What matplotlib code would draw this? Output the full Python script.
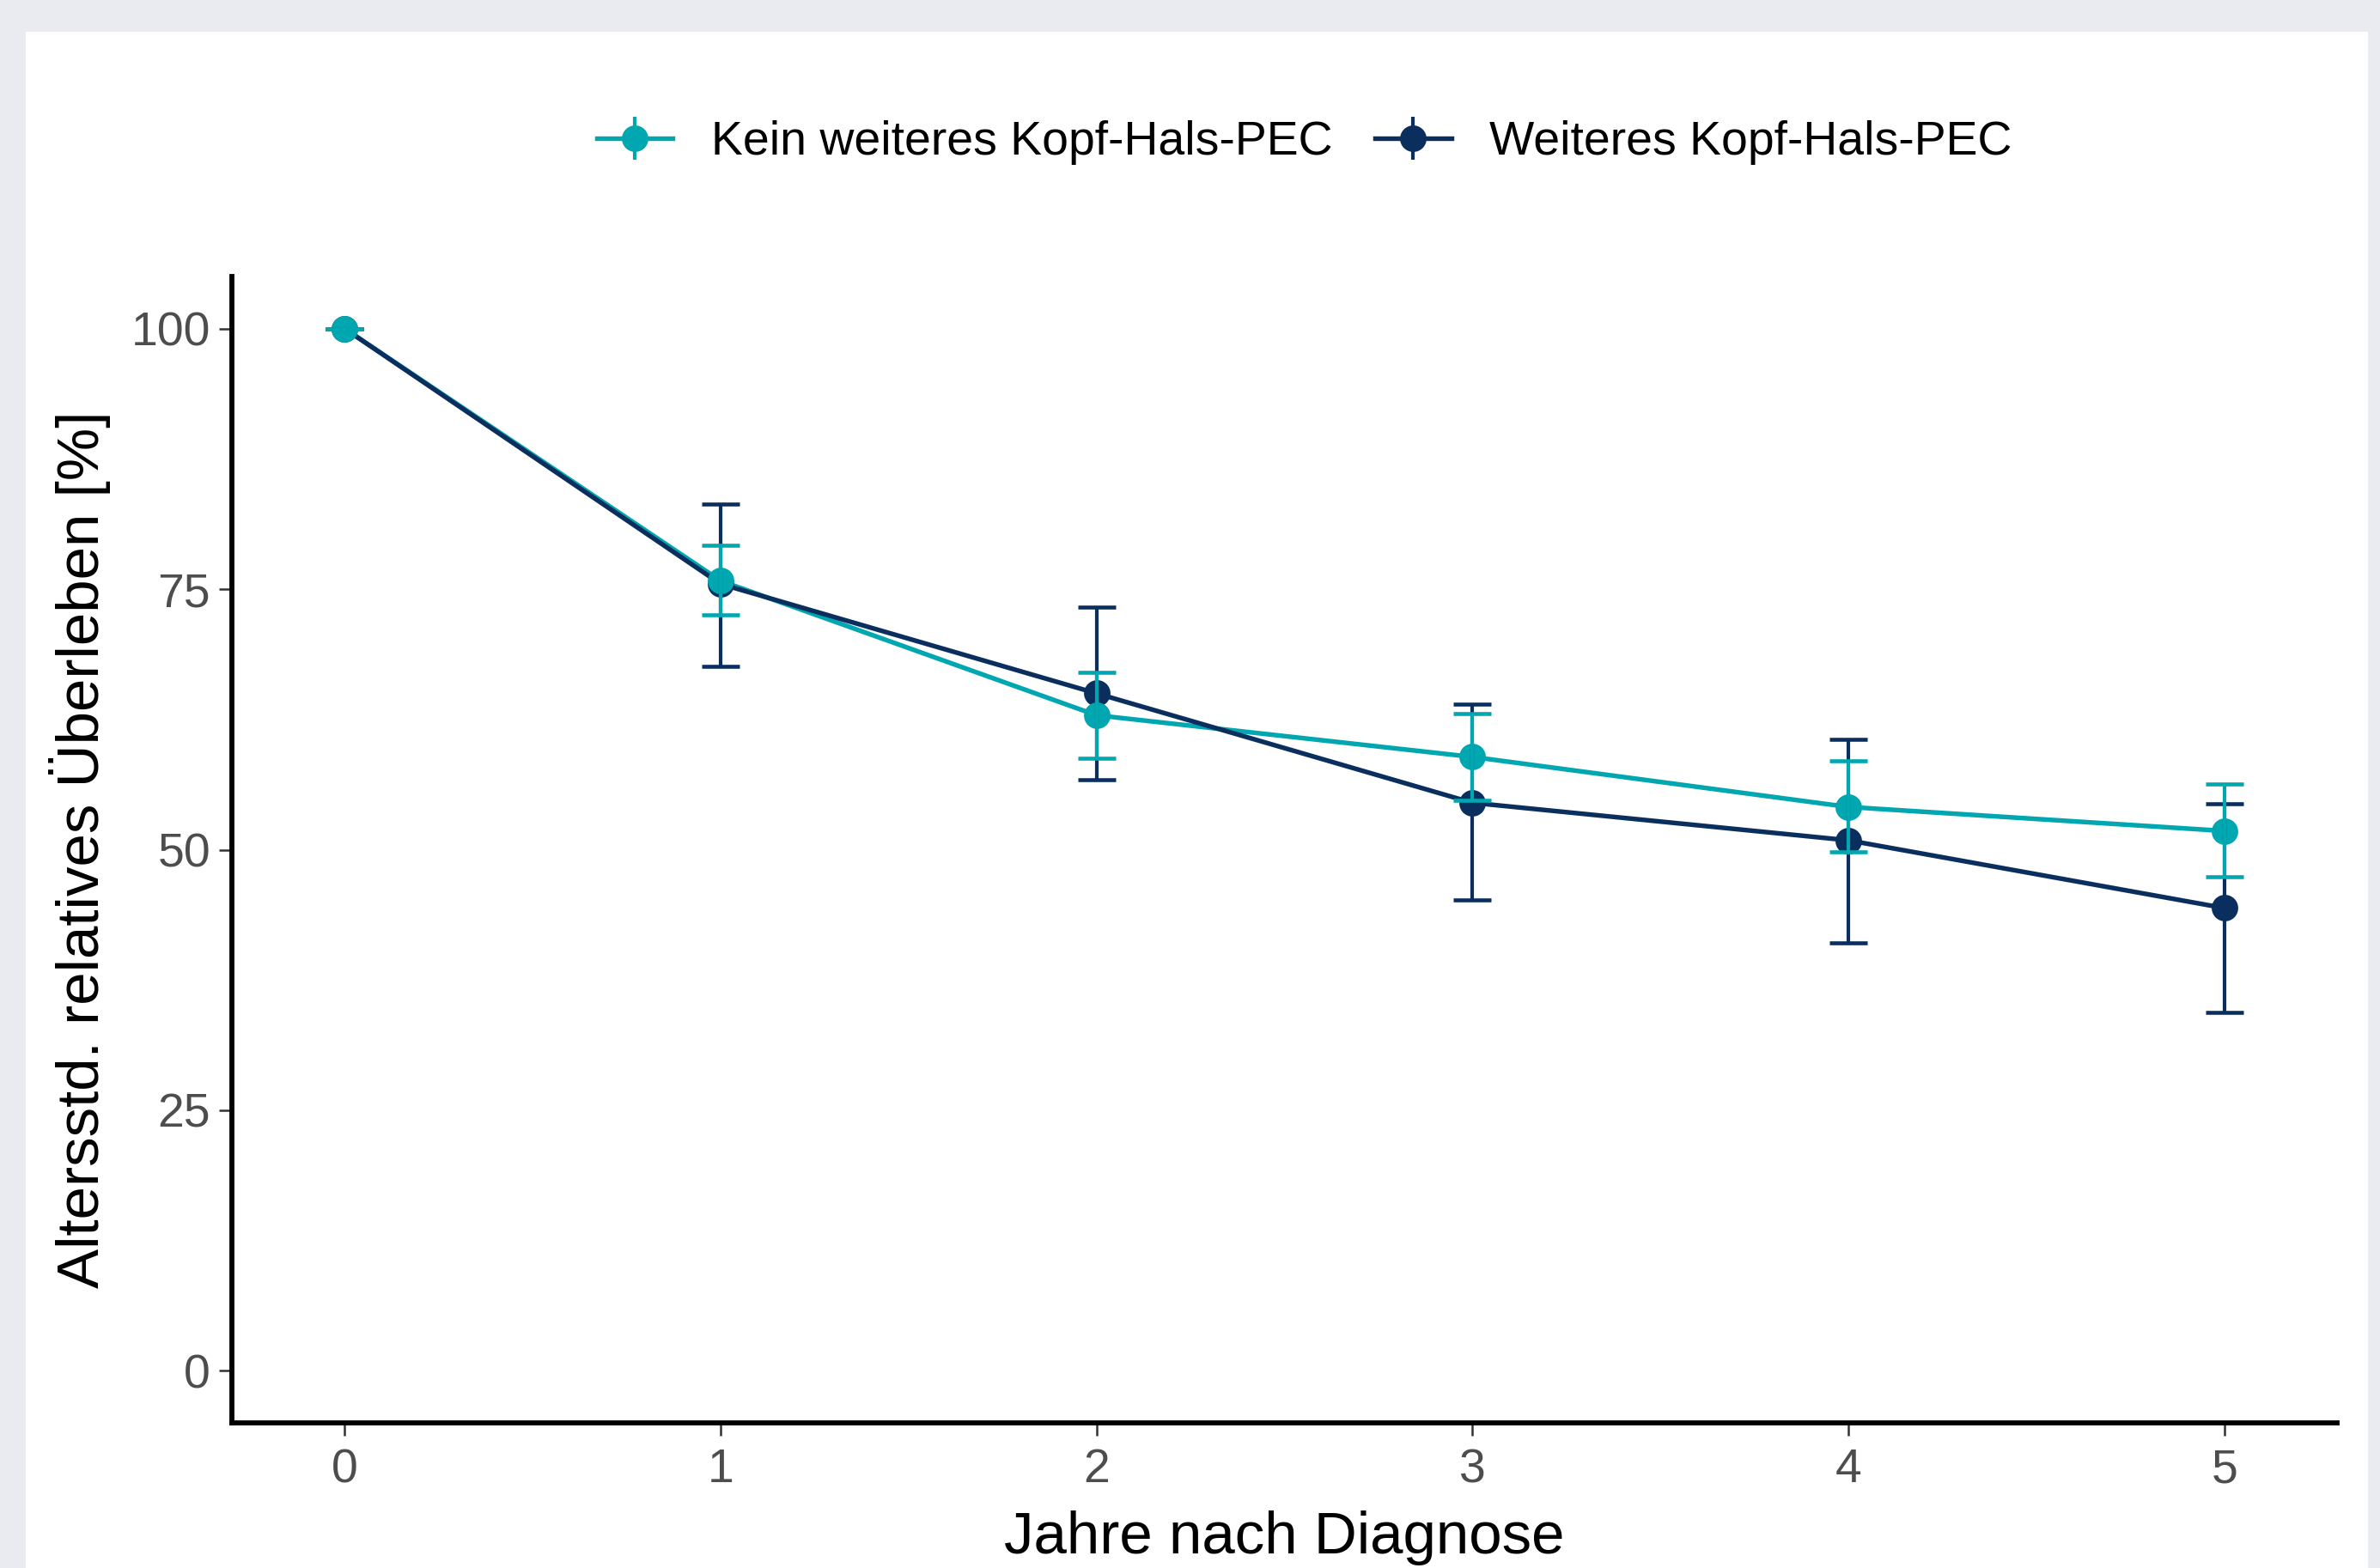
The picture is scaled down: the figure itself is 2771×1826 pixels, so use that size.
import matplotlib.pyplot as plt
from matplotlib.patches import Rectangle
from matplotlib.lines import Line2D

plt.rcParams["font.family"] = ["Liberation Sans", "DejaVu Sans"]

# ── Data ───────────────────────────────────────
years = [0, 1, 2, 3, 4, 5]

kein = [100, 75.8, 62.9, 58.9, 54.1, 51.8]
kein_lo = [100, 72.5, 58.8, 54.7, 49.8, 47.4]
kein_hi = [100, 79.2, 67.0, 63.1, 58.5, 56.3]

weit = [100, 75.5, 65.0, 54.5, 50.9, 44.4]
weit_lo = [100, 67.6, 56.7, 45.2, 41.1, 34.4]
weit_hi = [100, 83.2, 73.3, 64.0, 60.6, 54.4]

y_ticks = [0, 25, 50, 75, 100]

teal = "#00A7B1"
navy = "#0A2F5F"
bg = "#E9EBF0"

# ── Figure ─────────────────────────────────────
fig = plt.figure(figsize=(2771 / 300, 1826 / 300), dpi=300, facecolor=bg)
fig.add_artist(Rectangle((30 / 2771, 0), (2757 - 30) / 2771, 1 - 37 / 1826,
                         transform=fig.transFigure, facecolor="white",
                         edgecolor="none", zorder=-5))

ax = fig.add_axes([270 / 2771, 1 - 1657 / 1826,
                   (2721 - 270) / 2771, (1657 - 322) / 1826])
ax.set_zorder(2)
ax.set_facecolor("white")

series = {
    "Kein weiteres Kopf-Hals-PEC": (kein, kein_lo, kein_hi, teal),
    "Weiteres Kopf-Hals-PEC": (weit, weit_lo, weit_hi, navy),
}

# lines: teal below navy
for label in ["Kein weiteres Kopf-Hals-PEC", "Weiteres Kopf-Hals-PEC"]:
    mid, lo, hi, col = series[label]
    ax.plot(years, mid, color=col, lw=1.3, zorder=2)

# points and error bars: navy below teal
handles = {}
for i, label in enumerate(["Weiteres Kopf-Hals-PEC", "Kein weiteres Kopf-Hals-PEC"]):
    mid, lo, hi, col = series[label]
    ax.plot(years, mid, lw=0, marker="o", ms=6.4, color=col, zorder=3 + i)
    err = [[m - l for m, l in zip(mid, lo)], [h - m for m, h in zip(mid, hi)]]
    ax.errorbar(years, mid, yerr=err, fmt="none", ecolor=col,
                elinewidth=1.0, capsize=5.2, capthick=1.1, zorder=5 + i)
    handles[label] = (Line2D([], [], color=col, lw=1.3, marker="o", ms=6.4),
                      Line2D([], [], color=col, lw=0, marker="|", ms=12,
                             mew=1.0))

ax.set_xlim(-0.3, 5.3)
ax.set_ylim(-5, 105)
ax.set_xticks(years)
ax.set_yticks(y_ticks)
ax.tick_params(labelsize=13.3, labelcolor="#4D4D4D", color="#333333",
               length=3.6, width=0.6)
ax.tick_params(axis="y", pad=2.4)
ax.tick_params(axis="x", pad=3.4)

for side in ["top", "right"]:
    ax.spines[side].set_visible(False)
for side in ["left", "bottom"]:
    ax.spines[side].set_linewidth(1.4)
    ax.spines[side].set_color("black")

ax.set_xlabel("Jahre nach Diagnose", fontsize=16.6, labelpad=5)
ax.set_ylabel("Altersstd. relatives Überleben [%]", fontsize=16.6, labelpad=5.7)

order = ["Kein weiteres Kopf-Hals-PEC", "Weiteres Kopf-Hals-PEC"]
fig.legend([handles[k] for k in order], order, loc="center",
           bbox_to_anchor=(0.548, 1 - 166 / 1826), ncol=2, frameon=False,
           fontsize=13.3, handlelength=1.6, handletextpad=0.8,
           columnspacing=0.9)

plt.savefig("out.png", dpi=300, facecolor=bg)
